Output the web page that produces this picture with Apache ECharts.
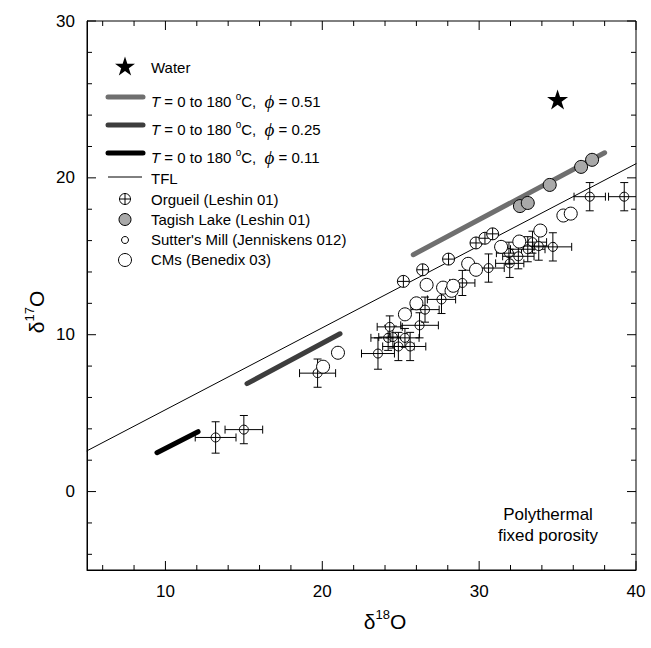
<!DOCTYPE html>
<html><head><meta charset="utf-8">
<script src="https://cdn.jsdelivr.net/npm/echarts@6/dist/echarts.min.js"></script>
<style>html,body{margin:0;padding:0;background:#fff}#c{width:651px;height:648px}</style>
</head><body><div id="c"></div>
<script>
// ---- data ----
const X_MIN = 5, X_MAX = 40, Y_MIN = -5, Y_MAX = 30;
const xMajor = [10, 20, 30, 40];
const xMinor = [6, 8, 12, 14, 16, 18, 22, 24, 26, 28, 32, 34, 36, 38];
const yMajor = [0, 10, 20, 30];
const yMinor = [-4, -2, 2, 4, 6, 8, 12, 14, 16, 18, 22, 24, 26, 28];

const water = [[35, 25]];
const phi051 = [[25.8, 15.1], [38.0, 21.6]];
const phi025 = [[15.2, 6.88], [21.13, 10.06]];
const phi011 = [[9.46, 2.48], [12.08, 3.82]];
const tfl = [[5, 2.6], [40, 20.9]];
const orgueil = [[25.17, 13.4], [26.4, 14.14], [28.05, 14.82], [29.8, 15.85], [30.37, 16.15], [30.86, 16.43]];
const tagish = [[32.6, 18.2], [33.1, 18.4], [34.5, 19.55], [36.5, 20.7], [37.2, 21.15]];
// [d18O, d17O, err18, err17]
const sutter = [
  [13.2, 3.45, 1.3, 1.0], [15.0, 3.95, 1.2, 0.9], [19.7, 7.55, 1.15, 0.9],
  [23.55, 8.8, 1.05, 1.0], [24.2, 9.8, 1.1, 0.8], [24.5, 9.85, 0.9, 0.7],
  [24.3, 10.5, 0.8, 0.7], [24.85, 9.25, 1.0, 0.9], [25.27, 9.8, 0.9, 0.6],
  [25.6, 9.25, 1.0, 0.9], [26.2, 10.6, 1.2, 0.8], [26.55, 11.6, 0.9, 0.8],
  [27.6, 12.25, 0.9, 0.9], [28.93, 13.3, 0.8, 0.8], [30.6, 14.25, 1.0, 0.9],
  [31.95, 14.55, 0.9, 0.9], [31.9, 15.2, 0.8, 0.7], [32.5, 15.0, 1.0, 0.8],
  [33.1, 15.45, 1.1, 0.8], [33.4, 15.9, 0.9, 0.7], [33.8, 15.65, 1.0, 0.9],
  [34.7, 15.6, 1.2, 0.9], [37.05, 18.8, 1.0, 0.9], [39.25, 18.8, 1.0, 0.9]
];
const cms = [[20.05, 7.96], [21.0, 8.85], [25.27, 11.3], [26.0, 12.0], [26.65, 13.18], [27.7, 13.0],
  [28.24, 12.8], [28.35, 13.12], [29.3, 14.52], [29.8, 14.14], [31.4, 15.6], [32.56, 15.94],
  [33.9, 16.64], [35.37, 17.6], [35.84, 17.72]];

// ---- styles ----
const FONT = '"Liberation Sans", Arial, sans-serif';
const STAR = 'path://M0,-100L22.45,-30.9L95.1,-30.9L36.3,11.8L58.8,80.9L0,38.2L-58.8,80.9L-36.3,11.8L-95.1,-30.9L-22.45,-30.9Z';
const OPLUS = 'path://M0,-10A10,10,0,1,1,0,10A10,10,0,1,1,0,-10ZM-10,0L10,0M0,-10L0,10';
const C_051 = '#6f6f6f', C_025 = '#3d3d3d', C_011 = '#000';
const MAJOR_LEN = 9, MINOR_LEN = 5;

function starPoints(cx, cy, R) {
  const pts = [];
  for (let k = 0; k < 10; k++) {
    const a = -Math.PI / 2 + k * Math.PI / 5;
    const rr = k % 2 === 0 ? R : R * 0.382;
    pts.push([cx + rr * Math.cos(a), cy + rr * Math.sin(a)]);
  }
  return pts;
}

// inward ticks on all four sides, placed through the axis scales
function tickSeries(vals, isX, len) {
  const midX = (X_MIN + X_MAX) / 2, midY = (Y_MIN + Y_MAX) / 2;
  return {
    type: 'custom',
    data: vals.map(v => isX ? [v, midY] : [midX, v]),
    renderItem: function (params, api) {
      const st = { stroke: '#000', lineWidth: 1 };
      if (isX) {
        const v = api.value(0);
        const b = api.coord([v, Y_MIN]), t = api.coord([v, Y_MAX]);
        return { type: 'group', children: [
          { type: 'line', shape: { x1: b[0], y1: b[1], x2: b[0], y2: b[1] - len }, style: st },
          { type: 'line', shape: { x1: t[0], y1: t[1], x2: t[0], y2: t[1] + len }, style: st }
        ] };
      } else {
        const v = api.value(1);
        const l = api.coord([X_MIN, v]), r = api.coord([X_MAX, v]);
        return { type: 'group', children: [
          { type: 'line', shape: { x1: l[0], y1: l[1], x2: l[0] + len, y2: l[1] }, style: st },
          { type: 'line', shape: { x1: r[0], y1: r[1], x2: r[0] - len, y2: r[1] }, style: st }
        ] };
      }
    }
  };
}

function lineSeries(data, color, width) {
  return { type: 'line', data: data, symbol: 'none', silent: true,
    lineStyle: { color: color, width: width, cap: 'round' }, z: 2 };
}

const chart = echarts.init(document.getElementById('c'), null, { renderer: 'svg' });

function legendText(y, str) {
  return { type: 'text', x: 151, y: y, style: { text: str, font: '15px ' + FONT, fill: '#000', verticalAlign: 'middle', align: 'left',
    rich: {
      n: { fontFamily: FONT, fontSize: 15, color: '#000', lineHeight: 20 },
      i: { fontFamily: FONT, fontSize: 15, fontStyle: 'italic', color: '#000', lineHeight: 20 },
      s: { fontFamily: FONT, fontSize: 10, color: '#000', verticalAlign: 'top' },
      p: { fontFamily: '"Liberation Serif", serif', fontSize: 19, fontStyle: 'italic', color: '#000', lineHeight: 20 }
    } } };
}
const tLabel = v => '{i|T}{n| = 0 to 180 }{s|o}{n|C,  }{p|ϕ}{n| = ' + v + '}';

const graphic = [
  // legend
  { type: 'polygon', shape: { points: starPoints(125, 67, 10.5) }, style: { fill: '#000' } },
  legendText(67, '{n|Water}'),
  { type: 'line', shape: { x1: 108, y1: 97, x2: 143, y2: 97 }, style: { stroke: C_051, lineWidth: 5, lineCap: 'round' } },
  legendText(101, tLabel('0.51')),
  { type: 'line', shape: { x1: 108, y1: 125, x2: 143, y2: 125 }, style: { stroke: C_025, lineWidth: 5, lineCap: 'round' } },
  legendText(129, tLabel('0.25')),
  { type: 'line', shape: { x1: 108, y1: 153, x2: 143, y2: 153 }, style: { stroke: C_011, lineWidth: 5, lineCap: 'round' } },
  legendText(157, tLabel('0.11')),
  { type: 'line', shape: { x1: 108, y1: 177, x2: 142, y2: 177 }, style: { stroke: '#000', lineWidth: 1 } },
  legendText(178, '{n|TFL}'),
  { type: 'circle', shape: { cx: 125, cy: 199, r: 5.5 }, style: { fill: '#fff', stroke: '#000', lineWidth: 1 } },
  { type: 'line', shape: { x1: 119.5, y1: 199, x2: 130.5, y2: 199 }, style: { stroke: '#000', lineWidth: 1 } },
  { type: 'line', shape: { x1: 125, y1: 193.5, x2: 125, y2: 204.5 }, style: { stroke: '#000', lineWidth: 1 } },
  legendText(199, '{n|Orgueil (Leshin 01)}'),
  { type: 'circle', shape: { cx: 125, cy: 219.5, r: 6 }, style: { fill: '#a9a9a9', stroke: '#000', lineWidth: 1 } },
  legendText(219.5, '{n|Tagish Lake (Leshin 01)}'),
  { type: 'circle', shape: { cx: 125, cy: 240, r: 3.5 }, style: { fill: '#fff', stroke: '#000', lineWidth: 1 } },
  legendText(239.5, "{n|Sutter's Mill (Jenniskens 012)}"),
  { type: 'circle', shape: { cx: 125, cy: 260, r: 6.5 }, style: { fill: '#fff', stroke: '#000', lineWidth: 1 } },
  legendText(259.5, '{n|CMs (Benedix 03)}'),
  // annotation
  { type: 'text', x: 548, y: 514, style: { text: 'Polythermal', font: '17px ' + FONT, fill: '#000', align: 'center', verticalAlign: 'middle' } },
  { type: 'text', x: 548, y: 535, style: { text: 'fixed porosity', font: '17px ' + FONT, fill: '#000', align: 'center', verticalAlign: 'middle' } },
  // axis titles
  { type: 'text', x: 385, y: 621, style: { text: '{d|δ}{s|18}{d|O}', align: 'center', verticalAlign: 'middle',
      rich: { d: { fontFamily: FONT, fontSize: 21, color: '#000', lineHeight: 26 }, s: { fontFamily: FONT, fontSize: 13, color: '#000', verticalAlign: 'top' } } } },
  { type: 'text', x: 36, y: 312, rotation: Math.PI / 2, style: { text: '{d|δ}{s|17}{d|O}', align: 'center', verticalAlign: 'middle',
      rich: { d: { fontFamily: FONT, fontSize: 21, color: '#000', lineHeight: 26 }, s: { fontFamily: FONT, fontSize: 13, color: '#000', verticalAlign: 'top' } } } }
];

const option = {
  animation: false,
  backgroundColor: '#fff',
  grid: { left: 87, right: 15, top: 21, bottom: 78, containLabel: false, show: true, borderColor: '#000', borderWidth: 1, backgroundColor: 'transparent' },
  xAxis: {
    type: 'value', min: X_MIN, max: X_MAX,
    axisLine: { show: true, onZero: false, lineStyle: { color: '#000', width: 1 } },
    axisTick: { show: false },
    axisLabel: { customValues: xMajor, fontSize: 17, color: '#000', fontFamily: FONT, margin: 13 },
    splitLine: { show: false }
  },
  yAxis: {
    type: 'value', min: Y_MIN, max: Y_MAX,
    axisLine: { show: true, onZero: false, lineStyle: { color: '#000', width: 1 } },
    axisTick: { show: false },
    axisLabel: { customValues: yMajor, fontSize: 17, color: '#000', fontFamily: FONT, margin: 12 },
    splitLine: { show: false }
  },
  series: [
    tickSeries(xMajor, true, MAJOR_LEN),
    tickSeries(xMinor, true, MINOR_LEN),
    tickSeries(yMajor, false, MAJOR_LEN),
    tickSeries(yMinor, false, MINOR_LEN),
    lineSeries(tfl, '#000', 1),
    lineSeries(phi051, C_051, 5),
    lineSeries(phi025, C_025, 5),
    lineSeries(phi011, C_011, 5),
    { type: 'scatter', data: orgueil, symbol: OPLUS, symbolSize: 12, z: 3,
      itemStyle: { color: '#fff', borderColor: '#000', borderWidth: 1, opacity: 1 } },
    { type: 'scatter', data: tagish, symbol: 'circle', symbolSize: 13, z: 3,
      itemStyle: { color: '#a9a9a9', borderColor: '#000', borderWidth: 1, opacity: 1 } },
    { type: 'custom', data: sutter, clip: true, z: 3,
      renderItem: function (params, api) {
        const x = api.value(0), y = api.value(1), ex = api.value(2), ey = api.value(3);
        const c = api.coord([x, y]);
        const l = api.coord([x - ex, y]), r = api.coord([x + ex, y]);
        const t = api.coord([x, y + ey]), b = api.coord([x, y - ey]);
        const cap = 4;
        const st = { stroke: '#000', lineWidth: 1, fill: null };
        return { type: 'group', children: [
          { type: 'circle', shape: { cx: c[0], cy: c[1], r: 4.5 }, style: { fill: '#fff', stroke: '#000', lineWidth: 1 } },
          { type: 'line', shape: { x1: l[0], y1: l[1], x2: r[0], y2: r[1] }, style: st },
          { type: 'line', shape: { x1: t[0], y1: t[1], x2: b[0], y2: b[1] }, style: st },
          { type: 'line', shape: { x1: l[0], y1: l[1] - cap, x2: l[0], y2: l[1] + cap }, style: st },
          { type: 'line', shape: { x1: r[0], y1: r[1] - cap, x2: r[0], y2: r[1] + cap }, style: st },
          { type: 'line', shape: { x1: t[0] - cap, y1: t[1], x2: t[0] + cap, y2: t[1] }, style: st },
          { type: 'line', shape: { x1: b[0] - cap, y1: b[1], x2: b[0] + cap, y2: b[1] }, style: st }
        ] };
      } },
    { type: 'scatter', data: cms, symbol: 'circle', symbolSize: 13, z: 4,
      itemStyle: { color: '#fff', borderColor: '#000', borderWidth: 1, opacity: 1 } },
    { type: 'scatter', data: water, symbol: STAR, symbolSize: 21, symbolKeepAspect: true, z: 4,
      itemStyle: { color: '#000', opacity: 1 } }
  ],
  graphic: graphic
};
chart.setOption(option);
</script>
</body></html>
